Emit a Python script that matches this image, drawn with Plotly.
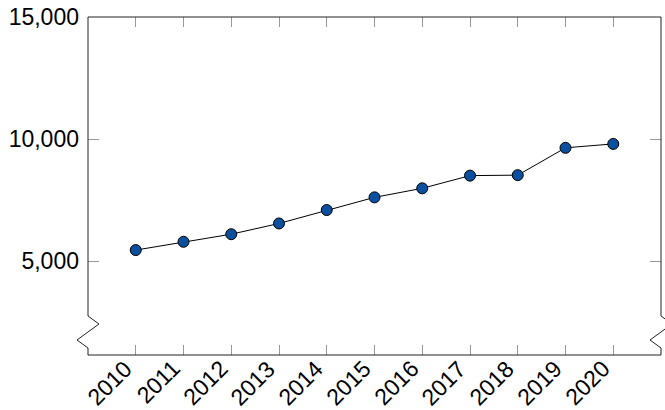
import plotly.graph_objects as go

years = [2010, 2011, 2012, 2013, 2014, 2015, 2016, 2017, 2018, 2019, 2020]
values = [5450, 5790, 6100, 6540, 7090, 7610, 7980, 8500, 8520, 9640, 9800]
x_labels = [str(y) for y in years]
y_ticks = [5000, 10000, 15000]
y_labels = ["5,000", "10,000", "15,000"]

W, H = 665, 410
PL, PR, PT, PB = 88, 661, 17, 355  # plot area in window pixels
pw, ph = PR - PL, PB - PT


def px2paper(x, y):
    # window pixel -> paper coords of the plot area
    return (x - PL) / pw, (PB - y) / ph


def path(points):
    pts = [px2paper(x, y) for x, y in points]
    return "M " + " L ".join(f"{x:.5f},{y:.5f}" for x, y in pts)


fig = go.Figure()
fig.add_trace(go.Scatter(
    x=years, y=values, mode="lines+markers",
    line=dict(color="black", width=1),
    marker=dict(size=11, color="#0b4f9f", line=dict(color="black", width=1)),
    cliponaxis=False,
))

axis_font = dict(family="Liberation Sans, Arial, sans-serif", size=23, color="black")

fig.update_xaxes(
    range=[2009, 2021], tickvals=years, showticklabels=False,
    ticks="inside", ticklen=10, tickcolor="#999", tickwidth=1,
    mirror="ticks", showline=False, showgrid=False, zeroline=False,
    automargin=False,
)
fig.update_yaxes(
    range=[1150, 15000.5], tickvals=y_ticks, ticktext=y_labels,
    ticks="inside", ticklen=11, tickcolor="#999", tickwidth=1,
    mirror="ticks", showline=False, showgrid=False, zeroline=False,
    tickfont=axis_font, automargin=False, ticklabelstandoff=8,
    ticklabeloverflow="allow",
)

# rotated year labels
for yr, lab in zip(years, x_labels):
    fig.add_annotation(x=yr, xref="x", y=0, yref="paper", text=lab,
                       textangle=-45, xanchor="right", yanchor="top",
                       xshift=4, yshift=2, showarrow=False, font=axis_font)

# frame with the axis-break zigzags on both vertical sides
spine = dict(color="#222", width=1)
fig.add_shape(type="path", xref="paper", yref="paper", line=spine,
              path=path([(PL, PT), (PR, PT)]))
fig.add_shape(type="path", xref="paper", yref="paper", line=spine,
              path=path([(PL, PB), (PR, PB)]))
for sx in (PL, PR):
    fig.add_shape(type="path", xref="paper", yref="paper", line=spine,
                  path=path([(sx, PB), (sx, 348), (sx - 11, 340),
                             (sx + 11, 324), (sx, 316), (sx, PT)]))

fig.update_layout(
    width=W, height=H,
    margin=dict(l=PL, r=W - PR, t=PT, b=H - PB),
    plot_bgcolor="white", paper_bgcolor="white",
    showlegend=False,
)

# drop the page's default body margin so the figure fills the window
fig.write_html("out.html", config={"displayModeBar": False},
               post_script="document.body.style.margin = '0';")
